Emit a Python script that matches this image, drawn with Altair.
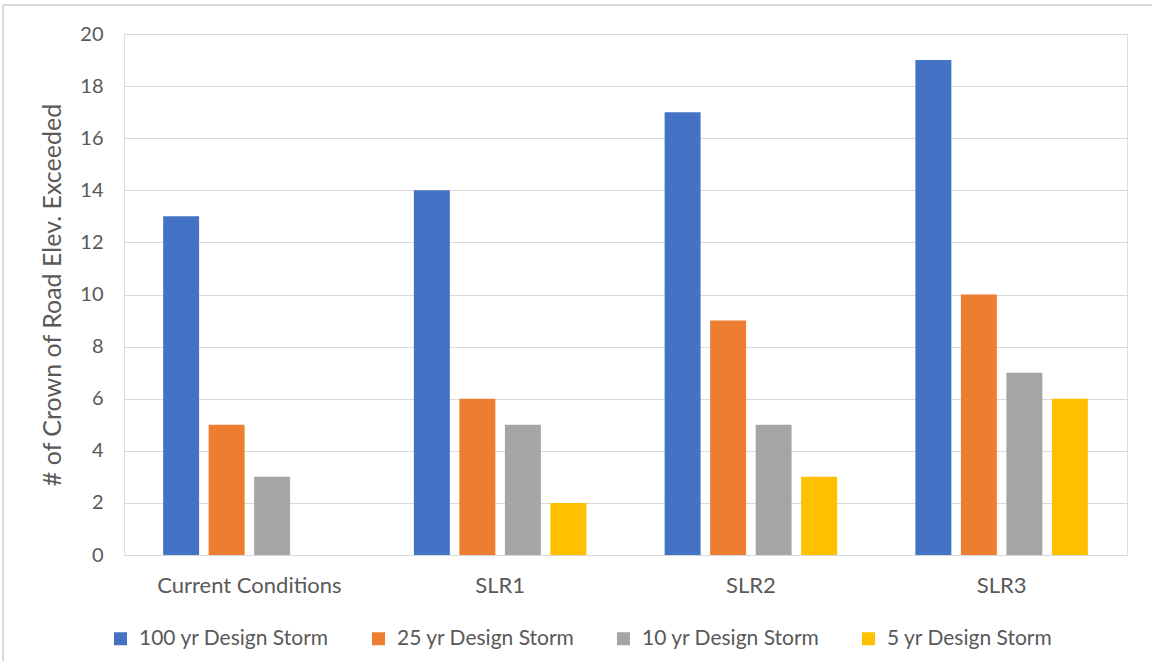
import altair as alt
import pandas as pd

# Scenarios along the x axis and one count series per design storm
scenarios = ["Current Conditions", "SLR1", "SLR2", "SLR3"]
storms = ["100 yr Design Storm", "25 yr Design Storm", "10 yr Design Storm", "5 yr Design Storm"]
storm_100yr = [13, 14, 17, 19]
storm_25yr = [5, 6, 9, 10]
storm_10yr = [3, 5, 5, 7]
storm_5yr = [0, 2, 3, 6]
colors = ["#4472C4", "#ED7D31", "#A5A5A5", "#FFC000"]

rows = []
for storm, values in zip(storms, [storm_100yr, storm_25yr, storm_10yr, storm_5yr]):
    for scenario, v in zip(scenarios, values):
        rows.append({"Scenario": scenario, "Storm": storm, "Count": v})
df = pd.DataFrame(rows)

FONT = "Lato"
TEXT = "#595959"
FRAME = "#d9d9d9"

bars = alt.Chart(df).mark_bar().encode(
    x=alt.X(
        "Scenario:N",
        sort=scenarios,
        scale=alt.Scale(paddingInner=0, paddingOuter=0),
        axis=alt.Axis(
            title=None, labelAngle=0, ticks=False, domain=True,
            domainColor="#d9d9d9", labelPadding=20, labelLimit=0,
            labelFont=FONT, labelFontSize=22, labelColor=TEXT,
        ),
    ),
    xOffset=alt.XOffset(
        "Storm:N", sort=storms,
        scale=alt.Scale(paddingInner=0.21, paddingOuter=0.86),
    ),
    y=alt.Y(
        "Count:Q",
        scale=alt.Scale(domain=[0, 20], nice=False),
        axis=alt.Axis(
            title="# of Crown of Road Elev. Exceeded",
            values=list(range(0, 21, 2)), grid=True, gridColor="#d9d9d9",
            ticks=False, domain=False, labelPadding=21,
            labelFont=FONT, labelFontSize=20, labelColor=TEXT,
            titleFont=FONT, titleFontSize=25, titleColor=TEXT,
            titleFontWeight="normal", titlePadding=14,
        ),
    ),
    color=alt.Color(
        "Storm:N", sort=storms,
        scale=alt.Scale(domain=storms, range=colors),
        legend=alt.Legend(
            title=None, orient="none", direction="horizontal",
            legendX=-14, legendY=594, columns=4,
            symbolType="square", symbolSize=169, symbolStrokeWidth=0,
            labelFont=FONT, labelFontSize=21, labelColor=TEXT,
            labelLimit=0, columnPadding=38, labelOffset=8,
        ),
    ),
)

# Outer chart frame: top and left edges of the chart border
anchor = pd.DataFrame({"k": [0]})
frame_top = alt.Chart(anchor).mark_rule(color=FRAME, strokeWidth=2, clip=False).encode(
    x=alt.value(-121), x2=alt.value(1100), y=alt.value(-29)
)
frame_left = alt.Chart(anchor).mark_rule(color=FRAME, strokeWidth=2, clip=False).encode(
    x=alt.value(-121), y=alt.value(-29), y2=alt.value(700)
)

chart = alt.layer(frame_top, frame_left, bars).properties(
    width=1003, height=521,
    padding={"left": 124, "top": 34, "right": 25, "bottom": 106},
    autosize=alt.AutoSizeParams(type="none"),
).configure_view(stroke=None).configure(background="white")

chart.save("out.html", embed_options={"renderer": "svg", "actions": False})
